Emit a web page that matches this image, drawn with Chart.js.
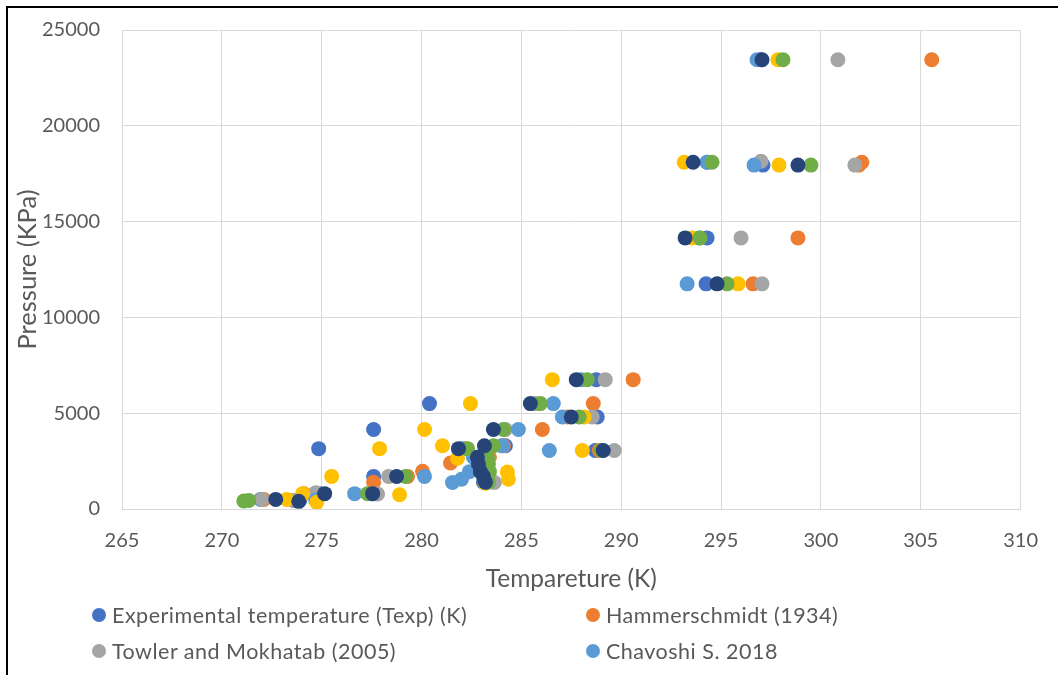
<!DOCTYPE html>
<html>
<head>
<meta charset="utf-8">
<title>Hydrate formation pressure</title>
<script src="https://cdn.jsdelivr.net/npm/chart.js"></script>
<style>
	html, body { margin: 0; padding: 0; background: #fff; }
	#wrap { position: absolute; left: 0; top: 0; width: 1058px; height: 675px; overflow: hidden; }
	#frame { position: absolute; left: 6px; top: 6px; width: 1060px; height: 680px; border-left: 2px solid #000; border-top: 2px solid #000; }
	canvas { position: absolute; left: 0; top: 0; }
	.item { position: absolute; display: flex; align-items: center; white-space: nowrap; font-family: Lato, sans-serif; font-size: 21.5px; letter-spacing: 0.5px; line-height: 24px; color: #595959; }
	.dot { width: 14px; height: 14px; border-radius: 50%; margin-right: 6px; }
</style>
</head>
<body>
<div id="wrap">
	<div id="frame"></div>
	<canvas id="myChart" width="1058" height="675"></canvas>
	<div id="legend"></div>
</div>
<script>
// [temperature (K), pressure (KPa)]
const experimental = [
	[297.0, 23450], [294.3, 18100], [297.1, 17950], [294.3, 14150], [294.25, 11750],
	[288.75, 6750], [280.4, 5500], [288.8, 4800], [277.6, 4150], [284.2, 3300],
	[274.85, 3150], [288.7, 3050], [282.75, 2700], [283.0, 2350], [283.05, 1950],
	[277.6, 1700], [283.1, 1400], [274.9, 800], [277.5, 800], [271.95, 500], [273.9, 450]
];
const hammerschmidt = [
	[305.55, 23450], [302.05, 18100], [301.9, 17950], [298.85, 14150], [296.6, 11750],
	[290.6, 6750], [288.6, 5500], [287.3, 4800], [286.05, 4150], [284.1, 3300],
	[282.2, 3150], [288.9, 3050], [283.4, 2700], [281.45, 2400], [280.05, 1970],
	[279.3, 1700], [277.6, 1400], [274.1, 800], [277.7, 800], [272.1, 500], [273.6, 450]
];
const towler = [
	[300.85, 23450], [297.0, 18150], [301.7, 17950], [296.0, 14150], [297.05, 11750],
	[289.2, 6750], [285.7, 5500], [288.55, 4800], [284.2, 4150], [284.0, 3300],
	[282.1, 3150], [289.65, 3050], [283.0, 2700], [283.1, 2350], [283.2, 1950],
	[278.35, 1700], [283.65, 1380], [274.7, 850], [277.8, 780], [272.0, 500], [273.6, 450]
];
const chavoshi = [
	[296.8, 23450], [294.3, 18100], [296.65, 17950], [293.9, 14150], [293.3, 11750],
	[288.0, 6750], [286.6, 5500], [287.05, 4800], [284.85, 4150], [284.05, 3300],
	[282.0, 3150], [286.4, 3050], [282.6, 2700], [282.4, 1950], [282.0, 1550],
	[280.15, 1700], [281.55, 1380], [276.65, 800], [274.7, 470]
];
const seriesYellow = [
	[297.85, 23450], [293.15, 18100], [297.9, 17950], [293.55, 14150], [295.85, 11750],
	[286.55, 6750], [282.45, 5500], [288.15, 4800], [280.15, 4150], [281.05, 3300],
	[277.9, 3150], [288.05, 3050], [281.8, 2650], [284.3, 1930], [284.35, 1550],
	[275.5, 1700], [278.9, 740], [274.05, 800], [273.25, 500], [274.75, 350], [283.2, 1350]
];
const seriesGreen = [
	[298.1, 23450], [294.55, 18100], [299.5, 17950], [293.95, 14150], [295.3, 11750],
	[288.3, 6750], [285.95, 5500], [287.9, 4800], [284.1, 4150], [283.6, 3300],
	[282.3, 3150], [289.0, 3050], [283.3, 2700], [283.35, 2350], [283.4, 1950],
	[279.2, 1700], [283.35, 1400], [277.3, 800], [271.1, 420], [271.35, 450]
];
const seriesNavy = [
	[297.05, 23450], [293.6, 18100], [298.85, 17950], [293.2, 14150], [294.8, 11750],
	[287.75, 6750], [285.45, 5500], [287.5, 4800], [283.6, 4150], [283.15, 3300],
	[281.85, 3150], [289.1, 3050], [282.8, 2700], [282.85, 2350], [282.95, 1950],
	[283.1, 1700], [278.75, 1700], [283.2, 1400], [275.15, 800], [277.55, 800],
	[272.7, 500], [273.85, 400]
];

const seriesNames = [
	'Experimental temperature (Texp) (K)', 'Hammerschmidt (1934)',
	'Towler and Mokhatab (2005)', 'Chavoshi S. 2018',
	'Series 5', 'Series 6', 'Series 7'
];
const seriesData = [experimental, hammerschmidt, towler, chavoshi, seriesYellow, seriesGreen, seriesNavy];
const seriesColors = ['#4472C4', '#ED7D31', '#A5A5A5', '#5B9BD5', '#FFC000', '#70AD47', '#264478'];
const legendCount = 4;

const xTicks = [265, 310, 5];
const yTicks = [0, 25000, 5000];

const textColor = '#595959';
const gridColor = '#d9d9d9';

const datasets = seriesData.map((pts, i) => ({
	label: seriesNames[i],
	data: pts.map(p => ({ x: p[0], y: p[1] })),
	backgroundColor: seriesColors[i],
	borderColor: seriesColors[i],
	pointRadius: 7.5,
	pointHoverRadius: 7.5,
	pointBorderWidth: 0,
	// later series sit on top
	order: seriesData.length - i
}));

const ctx = document.getElementById('myChart');
const myChart = new Chart(ctx, {
	type: 'scatter',
	data: { datasets: datasets },
	options: {
		responsive: false,
		animation: false,
		layout: { padding: { left: 0, right: 37, top: 30, bottom: 0 } },
		plugins: {
			legend: { display: false },
			tooltip: { enabled: false }
		},
		scales: {
			x: {
				type: 'linear',
				min: xTicks[0],
				max: xTicks[1],
				ticks: {
					stepSize: xTicks[2],
					padding: 20,
					color: textColor,
					font: { family: 'Lato', size: 20 }
				},
				grid: { color: gridColor, drawTicks: false },
				border: { color: gridColor },
				title: {
					display: true,
					text: 'Tempareture (K)',
					color: textColor,
					font: { family: 'Lato', size: 24.5 },
					padding: { top: 0, bottom: 81 }
				},
				afterFit(scale) { scale.height = 166; }
			},
			y: {
				min: yTicks[0],
				max: yTicks[1],
				ticks: {
					stepSize: yTicks[2],
					padding: 22,
					color: textColor,
					font: { family: 'Lato', size: 20 },
					callback: (v) => String(v)
				},
				grid: { color: gridColor, drawTicks: false },
				border: { color: gridColor },
				title: {
					display: true,
					text: 'Pressure (KPa)',
					color: textColor,
					font: { family: 'Lato', size: 25.5 },
					padding: { top: 12, bottom: 0 }
				},
				afterFit(scale) {
					scale.width = 122;
					// tick padding would otherwise push the plot top down
					scale.paddingTop = 12;
					scale.paddingBottom = 12;
				}
			}
		}
	}
});

// two-column legend under the chart, first four series only
const legendBox = document.getElementById('legend');
const colLeft = [92, 586];
const rowMid = [615, 651];
for (let i = 0; i < legendCount; i++) {
	const item = document.createElement('div');
	item.className = 'item';
	item.style.left = colLeft[i % 2] + 'px';
	item.style.top = (rowMid[Math.floor(i / 2)] - 12) + 'px';
	item.innerHTML = `<span class="dot" style="background:${seriesColors[i]}"></span><span>${seriesNames[i]}</span>`;
	legendBox.appendChild(item);
}
</script>
</body>
</html>
